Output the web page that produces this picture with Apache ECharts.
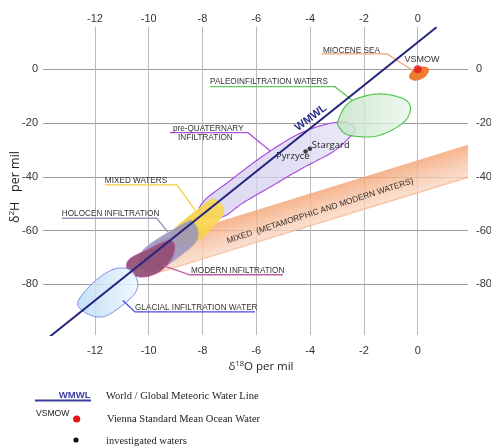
<!DOCTYPE html>
<html><head><meta charset="utf-8">
<script src="https://cdn.jsdelivr.net/npm/echarts@6/dist/echarts.min.js"></script>
<style>html,body{margin:0;padding:0;background:#fff}#c{width:491px;height:447px}</style>
</head><body><div id="c"></div>
<script>
// ---------- data (δ18O ‰, δ2H ‰) ----------
const xTicks = [-12, -10, -8, -6, -4, -2, 0];
const yTicks = [-80, -60, -40, -20, 0];
const wmwlLine = [[-13.75, -100], [0.7, 15.6]];
const vsmowPoint = [[0, 0]];
const investigatedNames = ['Pyrzyce', 'Stargard'];
const investigatedPoints = [[-4.17, -30.6], [-4.01, -29.6]];
const mixedBand = [[-9.77, -64.0], [1.87, -28.1], [1.87, -40.4], [-9.77, -76.2]];
const preQuaternary = [[-8.10,-53.4],[-7.91,-48.6],[-7.09,-42.3],[-5.86,-33.0],[-4.64,-25.2],[-3.74,-21.4],[-2.89,-19.6],[-2.44,-20.7],[-2.33,-22.6],[-2.52,-25.2],[-3.15,-30.7],[-4.27,-36.7],[-5.49,-43.8],[-6.50,-49.7],[-7.28,-54.9]];
const paleoInfiltration = [[-2.95,-18.8],[-2.52,-12.2],[-1.51,-9.2],[-0.55,-10.9],[-0.27,-14.6],[-0.55,-20.0],[-1.51,-24.8],[-2.52,-24.6],[-2.89,-22.0]];
const mioceneSea = [[-0.32,-2.9],[-0.17,-0.26],[0.20,1.0],[0.42,-0.07],[0.27,-2.9],[-0.10,-4.3]];
const mixedWaters = [[-9.14,-60.5],[-7.80,-49.1],[-7.54,-48.4],[-7.28,-50.1],[-7.20,-53.4],[-7.43,-56.8],[-8.17,-63.8],[-8.77,-64.9]];
const holocenInfiltration = [[-10.14,-66.4],[-8.62,-56.8],[-8.36,-56.8],[-8.17,-59.7],[-8.24,-64.2],[-8.91,-70.1],[-9.77,-75.4],[-10.33,-73.1]];
const modernInfiltration = [[-10.81,-73.9],[-10.70,-70.5],[-10.07,-67.2],[-9.40,-64.0],[-9.14,-63.8],[-9.03,-66.1],[-9.14,-70.1],[-9.51,-74.6],[-10.03,-77.0],[-10.51,-76.8]];
const glacialInfiltration = [[-11.37,-74.6],[-10.77,-74.2],[-10.48,-77.2],[-10.42,-81.3],[-10.70,-85.4],[-11.44,-91.0],[-11.89,-92.1],[-12.41,-90.2],[-12.63,-86.5],[-12.11,-79.8]];

// ---------- styles / layout ----------
const FONT = '"Liberation Sans", Arial, sans-serif';
const G = echarts.graphic;
function lg(a, b) { return new G.LinearGradient(0, 0, 1, 0, [{offset: 0, color: a}, {offset: 1, color: b}]); }
const regions = [
  {pts: preQuaternary, fill: lg('rgba(206,201,236,0.75)', 'rgba(226,224,245,0.75)'), stroke: '#a546dc', lw: 1.1},
  {pts: paleoInfiltration, fill: lg('rgba(192,226,194,0.8)', 'rgba(236,247,236,0.8)'), stroke: '#48c448', lw: 1.1},
  {pts: mioceneSea, fill: '#ef7b30', stroke: null, lw: 0},
  {pts: mixedWaters, fill: lg('rgba(247,205,52,0.92)', 'rgba(249,216,90,0.92)'), stroke: null, lw: 0},
  {pts: holocenInfiltration, fill: 'rgba(150,148,192,0.85)', stroke: null, lw: 0},
  {pts: modernInfiltration, fill: 'rgba(146,76,114,0.92)', stroke: '#b4559a', lw: 1},
  {pts: glacialInfiltration, fill: lg('rgba(186,220,245,0.85)', 'rgba(235,246,253,0.85)'), stroke: '#7a86ea', lw: 1}
];
const callouts = [
  {lines: [['MIOCENE SEA', [-3.52, 6.8]]], leader: [[-3.56, 5.7], [-1.14, 5.7], [-0.21, -0.26]], color: '#f4a67a'},
  {lines: [['PALEOINFILTRATION WATERS', [-7.72, -4.7]]], leader: [[-7.72, -6.5], [-3.08, -6.5], [-2.41, -11.7]], color: '#5ccc5c'},
  {lines: [['pre-QUATERNARY', [-9.10, -22.0]], ['INFILTRATION', [-8.91, -25.5]]], leader: [[-9.21, -23.6], [-6.31, -23.6], [-5.49, -30.3]], color: '#b050e0'},
  {lines: [['MIXED WATERS', [-11.63, -41.5]]], leader: [[-11.63, -43.0], [-8.95, -43.0], [-8.28, -52.3]], color: '#f5d040'},
  {lines: [['HOLOCEN INFILTRATION', [-13.23, -53.8]]], leader: [[-13.23, -55.4], [-9.70, -55.4], [-9.29, -60.5]], color: '#9a98c0'},
  {lines: [['MODERN INFILTRATION', [-8.43, -74.9]]], leader: [[-5.01, -76.4], [-8.47, -76.4], [-9.47, -73.0]], color: '#c060a0'},
  {lines: [['GLACIAL INFILTRATION WATER', [-10.51, -88.7]]], leader: [[-6.05, -90.2], [-10.51, -90.2], [-10.96, -86.0]], color: '#4a4ae8'}
];

function spline(px) {
  const n = px.length, out = [], S = 16;
  for (let i = 0; i < n; i++) {
    const p0 = px[(i - 1 + n) % n], p1 = px[i], p2 = px[(i + 1) % n], p3 = px[(i + 2) % n];
    for (let k = 0; k < S; k++) {
      const t = k / S, t2 = t * t, t3 = t2 * t;
      const f = (a, b, c, d) => 0.5 * (2 * b + (-a + c) * t + (2 * a - 5 * b + 4 * c - d) * t2 + (-a + 3 * b - 3 * c + d) * t3);
      out.push([f(p0[0], p1[0], p2[0], p3[0]), f(p0[1], p1[1], p2[1], p3[1])]);
    }
  }
  return out;
}

const chart = echarts.init(document.getElementById('c'), null, {renderer: 'canvas'});
const axisLabelBase = {fontSize: 11, color: '#333', fontFamily: FONT};
const option = {
  animation: false,
  backgroundColor: '#fff',
  grid: {left: 43, right: 23, top: 27, bottom: 112, outerBoundsMode: 'none', containLabel: false},
  xAxis: [
    {type: 'value', position: 'bottom', min: -13.93, max: 1.87,
      axisLine: {show: false}, axisTick: {show: false, customValues: xTicks},
      axisLabel: Object.assign({customValues: xTicks, margin: 10}, axisLabelBase),
      splitLine: {show: true, lineStyle: {color: '#bababa', width: 1}}},
    {type: 'value', position: 'top', min: -13.93, max: 1.87,
      axisLine: {show: false}, axisTick: {show: false, customValues: xTicks},
      axisLabel: Object.assign({customValues: xTicks, margin: 3}, axisLabelBase),
      splitLine: {show: false}}
  ],
  yAxis: [
    {type: 'value', position: 'left', min: -98.8, max: 15.7,
      axisLine: {show: false}, axisTick: {show: false, customValues: yTicks},
      axisLabel: Object.assign({customValues: yTicks, margin: 5}, axisLabelBase),
      splitLine: {show: true, lineStyle: {color: '#9d9d9d', width: 1}}},
    {type: 'value', position: 'right', min: -98.8, max: 15.7,
      axisLine: {show: false}, axisTick: {show: false, customValues: yTicks},
      axisLabel: Object.assign({customValues: yTicks, margin: 8}, axisLabelBase),
      splitLine: {show: false}}
  ],
  series: [
    { // mixed band
      type: 'custom', xAxisIndex: 0, yAxisIndex: 0, clip: true,
      data: [[0, 0]],
      renderItem: function (params, api) {
        const p = mixedBand.map(d => api.coord(d));
        const dx = p[1][0] - p[0][0], dy = p[1][1] - p[0][1], L = Math.hypot(dx, dy);
        const nx = -dy / L, ny = dx / L;
        const w = (p[3][0] - p[0][0]) * nx + (p[3][1] - p[0][1]) * ny;
        const gx = p[0][0], gy = p[0][1];
        const grad = new G.LinearGradient(gx, gy, gx + nx * w, gy + ny * w, [
          {offset: 0, color: 'rgba(243,162,114,0.8)'}, {offset: 0.5, color: 'rgba(247,192,160,0.8)'},
          {offset: 0.93, color: 'rgba(250,214,194,0.8)'}, {offset: 1, color: 'rgba(244,176,138,0.8)'}], true);
        return {type: 'polygon', shape: {points: p}, style: {fill: grad}};
      }
    },
    { // band text
      type: 'custom', xAxisIndex: 0, yAxisIndex: 0,
      data: [[0, 0]],
      renderItem: function (params, api) {
        const c = api.coord([-3.63, -52.7]);
        return {type: 'text', x: c[0], y: c[1], rotation: 18 * Math.PI / 180,
          style: {text: 'MIXED  (METAMORPHIC AND MODERN WATERS)', fill: '#333', fontSize: 8.4, fontFamily: FONT, align: 'center', verticalAlign: 'middle'}};
      }
    },
    { // regions
      type: 'custom', xAxisIndex: 0, yAxisIndex: 0,
      data: regions.map((r, i) => [i, 0]),
      renderItem: function (params, api) {
        const r = regions[params.dataIndex];
        const pts = spline(r.pts.map(d => api.coord(d)));
        return {type: 'polygon', shape: {points: pts},
          style: {fill: r.fill, stroke: r.stroke || null, lineWidth: r.lw}};
      }
    },
    {
      type: 'line', name: 'WMWL', data: wmwlLine, xAxisIndex: 0, yAxisIndex: 0,
      showSymbol: false, clip: true, lineStyle: {color: '#25257f', width: 2}
    },
    {
      type: 'scatter', name: 'VSMOW', data: vsmowPoint, symbolSize: 8,
      itemStyle: {color: '#e3161b'}
    },
    {
      type: 'scatter', name: 'investigated waters', data: investigatedPoints, symbolSize: 4.5,
      itemStyle: {color: '#111'}
    },
    { // annotations
      type: 'custom', xAxisIndex: 0, yAxisIndex: 0,
      data: [[0, 0]],
      renderItem: function (params, api) {
        const ch = [];
        callouts.forEach(c => {
          ch.push({type: 'polyline', shape: {points: c.leader.map(d => api.coord(d))},
            style: {stroke: c.color, lineWidth: 1.3, fill: null}});
          c.lines.forEach(l => {
            const p = api.coord(l[1]);
            ch.push({type: 'text', x: p[0], y: p[1], style: {text: l[0], fill: '#333', fontSize: 8.2, fontFamily: FONT, align: 'left', verticalAlign: 'middle'}});
          });
        });
        const v = api.coord([0.16, 3.5]);
        ch.push({type: 'text', x: v[0], y: v[1], style: {text: 'VSMOW', fill: '#333', fontSize: 9, fontFamily: FONT, align: 'center', verticalAlign: 'middle'}});
        const w = api.coord([-3.97, -18.1]);
        ch.push({type: 'text', x: w[0], y: w[1], rotation: 37 * Math.PI / 180, style: {text: 'WMWL', fill: '#2e2e8c', fontSize: 11, fontWeight: 'bold', fontFamily: FONT, align: 'center', verticalAlign: 'middle'}});
        const s = api.coord(investigatedPoints[1]);
        ch.push({type: 'text', x: s[0] + 2, y: s[1] - 4, style: {text: investigatedNames[1], fill: '#222', fontSize: 9.5, fontFamily: '"Open Sans", sans-serif', align: 'left', verticalAlign: 'middle'}});
        const q = api.coord(investigatedPoints[0]);
        ch.push({type: 'text', x: q[0] + 4, y: q[1] + 5, style: {text: investigatedNames[0], fill: '#222', fontSize: 9.5, fontFamily: '"Open Sans", sans-serif', align: 'right', verticalAlign: 'middle'}});
        return {type: 'group', children: ch};
      }
    }
  ],
  graphic: [
    {type: 'text', x: 261, y: 367, style: {text: '{n|δ}{s|18}{n|O per mil}', align: 'center', verticalAlign: 'middle',
      rich: {n: {fontSize: 11.5, fontFamily: '"Open Sans", sans-serif', fill: '#222'}, s: {fontSize: 7.5, fontFamily: '"Open Sans", sans-serif', fill: '#222', padding: [0, 0, 6, 0]}}}},
    {type: 'text', x: 15, y: 187, rotation: Math.PI / 2, style: {text: '{n|δ}{s|2}{n|H   per mil}', align: 'center', verticalAlign: 'middle',
      rich: {n: {fontSize: 12.5, fontFamily: '"Open Sans", sans-serif', fill: '#222'}, s: {fontSize: 8, fontFamily: '"Open Sans", sans-serif', fill: '#222', padding: [0, 0, 6, 0]}}}},
    {type: 'line', shape: {x1: 35, y1: 400.5, x2: 91, y2: 400.5}, style: {stroke: '#3a3a9c', lineWidth: 2}},
    {type: 'text', x: 90.5, y: 395, style: {text: 'WMWL', align: 'right', verticalAlign: 'middle', fill: '#3a3a9c', fontSize: 9.5, fontWeight: 'bold', fontFamily: FONT}},
    {type: 'text', x: 106, y: 396, style: {text: 'World / Global Meteoric Water Line', verticalAlign: 'middle', fill: '#222', fontSize: 10.5, fontFamily: '"Liberation Serif", "Times New Roman", serif'}},
    {type: 'text', x: 36, y: 414, style: {text: 'VSMOW', verticalAlign: 'middle', fill: '#222', fontSize: 8.6, fontFamily: FONT}},
    {type: 'circle', shape: {cx: 76.7, cy: 419, r: 3.6}, style: {fill: '#e3161b'}},
    {type: 'text', x: 107, y: 419, style: {text: 'Vienna Standard Mean Ocean Water', verticalAlign: 'middle', fill: '#222', fontSize: 10.5, fontFamily: '"Liberation Serif", "Times New Roman", serif'}},
    {type: 'circle', shape: {cx: 76, cy: 440, r: 2.6}, style: {fill: '#111'}},
    {type: 'text', x: 106, y: 441, style: {text: 'investigated waters', verticalAlign: 'middle', fill: '#222', fontSize: 10.5, fontFamily: '"Liberation Serif", "Times New Roman", serif'}}
  ]
};
chart.setOption(option);
</script></body></html>
